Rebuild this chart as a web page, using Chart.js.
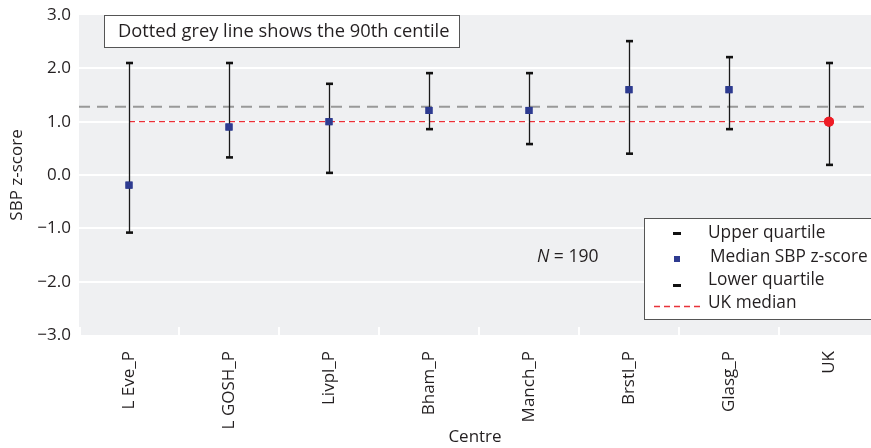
<!DOCTYPE html>
<html>
<head>
<meta charset="utf-8">
<script src="https://cdn.jsdelivr.net/npm/chart.js@4.4.1/dist/chart.umd.min.js"></script>
<style>
html,body{margin:0;padding:0;background:#fff;}
#wrap{width:871px;height:448px;}
</style>
</head>
<body>
<div id="wrap"><canvas id="c" width="871" height="448"></canvas></div>
<script>
// ---- data ----
const categories = ['L Eve_P','L GOSH_P','Livpl_P','Bham_P','Manch_P','Brstl_P','Glasg_P','UK'];
const upperQuartile = [2.10, 2.10, 1.71, 1.91, 1.91, 2.51, 2.21, 2.10];
const medianZ = [-0.19, 0.90, 1.00, 1.21, 1.21, 1.60, 1.60, 1.00];
const lowerQuartile = [-1.08, 0.33, 0.04, 0.86, 0.58, 0.40, 0.86, 0.19];
const ukMedian = 1.0;
const centile90 = 1.28;
const yTicks = [-3, -2, -1, 0, 1, 2, 3];
const sampleN = 190;

const FONT = "'Open Sans', 'Noto Sans', sans-serif";
const TXT = '#231f20';
const fmt = v => (v < 0 ? '\u2212' : '') + Math.abs(v).toFixed(1);

const decor = {
  id: 'decor',
  beforeDraw(chart) {
    const {ctx, chartArea: a} = chart;
    ctx.save();
    ctx.fillStyle = '#eff0f2';
    ctx.fillRect(a.left, a.top, a.right - a.left, a.bottom - a.top);
    const xs = chart.scales.x;
    ctx.strokeStyle = '#ffffff';
    ctx.lineWidth = 2;
    for (let i = 0; i <= categories.length; i++) {
      const px = xs.getPixelForValue(i - 0.5);
      if (px < a.left - 1 || px > a.right + 1) continue;
      ctx.beginPath();
      ctx.moveTo(px + (i === 0 ? 1 : 0), a.bottom);
      ctx.lineTo(px + (i === 0 ? 1 : 0), a.bottom - 8);
      ctx.stroke();
    }
    ctx.restore();
  },
  beforeDatasetsDraw(chart) {
    const {ctx, chartArea: a, scales: {y}} = chart;
    ctx.save();
    const gy = y.getPixelForValue(centile90);
    ctx.strokeStyle = '#999999';
    ctx.lineWidth = 2;
    ctx.setLineDash([11, 7]);
    ctx.beginPath();
    ctx.moveTo(a.left, gy);
    ctx.lineTo(a.right, gy);
    ctx.stroke();
    ctx.setLineDash([]);
    ctx.restore();
  },
  afterDatasetsDraw(chart) {
    const {ctx, scales: {x, y}} = chart;
    ctx.save();
    categories.forEach((c, i) => {
      const px = Math.round(x.getPixelForValue(i)) + 0.5;
      const yu = y.getPixelForValue(upperQuartile[i]);
      const yl = y.getPixelForValue(lowerQuartile[i]);
      ctx.strokeStyle = '#1a1a1a';
      ctx.lineWidth = 1.3;
      ctx.beginPath();
      ctx.moveTo(px, yu);
      ctx.lineTo(px, yl);
      ctx.stroke();
      ctx.fillStyle = '#111';
      ctx.fillRect(px - 3.5, yu - 1.3, 7, 2.6);
      ctx.fillRect(px - 3.5, yl - 1.3, 7, 2.6);
    });
    const meta = chart.getDatasetMeta(0);
    meta.data.forEach(el => el.draw(ctx, chart.chartArea));
    ctx.restore();
  },
  afterDraw(chart) {
    const {ctx} = chart;
    ctx.save();
    ctx.fillStyle = '#fff';
    ctx.fillRect(104, 15, 355, 32);
    ctx.strokeStyle = '#555';
    ctx.lineWidth = 1;
    ctx.strokeRect(104.5, 15.5, 355, 32);
    ctx.fillStyle = TXT;
    ctx.font = "18.3px " + FONT;
    ctx.textBaseline = 'middle';
    ctx.textAlign = 'left';
    ctx.fillText('Dotted grey line shows the 90th centile', 118, 31.5);

    ctx.font = "italic 17.5px " + FONT;
    ctx.fillText('N', 537, 257);
    const wN = ctx.measureText('N').width;
    ctx.font = "17.5px " + FONT;
    ctx.fillText(' = ' + sampleN, 537 + wN, 257);

    ctx.fillStyle = '#fff';
    ctx.fillRect(644, 218, 240, 101);
    ctx.strokeStyle = '#555';
    ctx.strokeRect(644.5, 218.5, 240, 101);
    ctx.fillStyle = '#111';
    ctx.fillRect(673, 232, 8, 3);
    ctx.fillStyle = '#2e3b90';
    ctx.fillRect(674, 256, 6, 6);
    ctx.fillStyle = '#111';
    ctx.fillRect(673, 284, 8, 3);
    ctx.strokeStyle = '#e8333a';
    ctx.lineWidth = 1.3;
    ctx.setLineDash([6, 4]);
    ctx.beginPath();
    ctx.moveTo(654, 306.5);
    ctx.lineTo(704, 306.5);
    ctx.stroke();
    ctx.setLineDash([]);
    ctx.fillStyle = TXT;
    ctx.font = "17.3px " + FONT;
    ctx.fillText('Upper quartile', 708, 233);
    ctx.fillText('Median SBP z-score', 710, 257);
    ctx.fillText('Lower quartile', 708, 280);
    ctx.fillText('UK median', 708, 303);
    ctx.restore();
  }
};

const medianPoints = medianZ.map((v, i) => ({x: i, y: v}));
const isUK = i => categories[i] === 'UK';

new Chart(document.getElementById('c'), {
  type: 'scatter',
  data: {
    datasets: [
      {
        label: 'Median SBP z-score',
        data: medianPoints,
        pointStyle: medianZ.map((v, i) => isUK(i) ? 'circle' : 'rect'),
        pointRadius: 5,
        backgroundColor: medianZ.map((v, i) => isUK(i) ? '#ee1c25' : '#2e3b90'),
        borderColor: medianZ.map((v, i) => isUK(i) ? '#ee1c25' : '#2e3b90'),
        borderWidth: 0,
        order: 1
      },
      {
        type: 'line',
        label: 'UK median',
        data: [{x: 0, y: ukMedian}, {x: categories.length - 1, y: ukMedian}],
        borderColor: '#ea3038',
        borderWidth: 1.4,
        borderDash: [6, 4],
        pointRadius: 0,
        fill: false,
        order: 2
      }
    ]
  },
  options: {
    responsive: false,
    animation: false,
    devicePixelRatio: 1,
    layout: {autoPadding: false, padding: {top: 15, right: 0, left: 0, bottom: 0}},
    plugins: {legend: {display: false}, tooltip: {enabled: false}},
    scales: {
      x: {
        type: 'linear',
        min: -0.5,
        max: 7.42,
        afterBuildTicks: s => { s.ticks = categories.map((c, i) => ({value: i})); },
        afterFit: s => { s.height = 113; s.paddingLeft = 0; s.paddingRight = 0; },
        ticks: {
          callback: v => categories[v],
          autoSkip: false,
          minRotation: 90,
          maxRotation: 90,
          padding: 16,
          color: TXT,
          font: {family: FONT, size: 17}
        },
        grid: {display: true, drawOnChartArea: false, drawTicks: false, color: 'rgba(0,0,0,0)'},
        border: {display: false},
        title: {display: true, text: 'Centre', color: TXT, font: {family: FONT, size: 17}, padding: {top: 0, bottom: 1}}
      },
      y: {
        min: -3,
        max: 3,
        afterBuildTicks: s => { s.ticks = yTicks.map(v => ({value: v})); },
        afterFit: s => { s.width = 79; s.paddingTop = 0; s.paddingBottom = 0; },
        ticks: {
          callback: v => fmt(v),
          padding: 8,
          color: TXT,
          font: {family: FONT, size: 17}
        },
        grid: {
          drawTicks: false,
          lineWidth: 2,
          color: c => (c.tick && (c.tick.value === 3 || c.tick.value === -3)) ? 'rgba(0,0,0,0)' : '#ffffff'
        },
        border: {display: false},
        title: {display: true, text: 'SBP z-score', color: TXT, font: {family: FONT, size: 17}, padding: {top: 7, bottom: 0}}
      }
    }
  },
  plugins: [decor]
});
</script>
</body>
</html>
